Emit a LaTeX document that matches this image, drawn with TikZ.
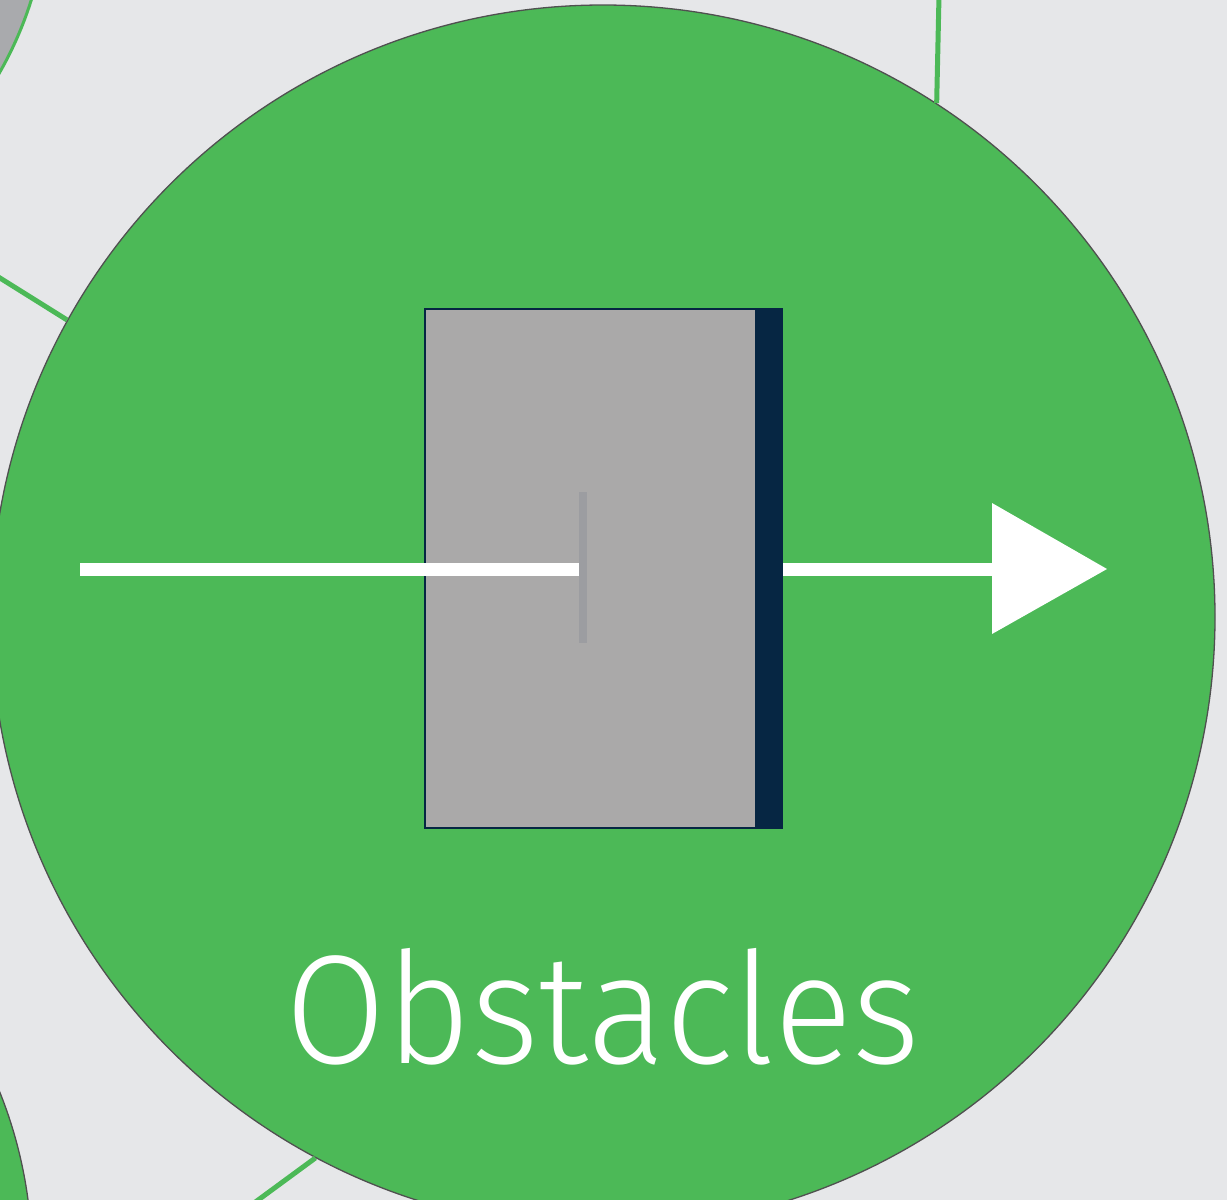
\documentclass[tikz,border=0pt]{standalone}
\usepackage{fontspec}
\newfontfamily\labelfont[FakeStretch=0.94]{Fira Sans Light}
\definecolor{bg}{HTML}{E6E7E9}
\definecolor{leaf}{HTML}{4CB957}
\definecolor{navy}{HTML}{062643}
\definecolor{boxgray}{HTML}{AAA9A9}
\definecolor{pingray}{HTML}{9C9DA1}
\definecolor{rim}{HTML}{505050}
\definecolor{otherfill}{HTML}{A9AAAD}
\tikzset{
  bubble/.style={circle, fill=leaf, draw=rim, line width=1.3pt, inner sep=0pt},
  greybubble/.style={circle, fill=otherfill, draw=leaf, line width=3pt, inner sep=0pt},
  link/.style={draw=leaf, line width=5pt},
  shaft/.style={draw=white, line width=13pt},
}
\begin{document}
\begin{tikzpicture}[x=1pt,y=-1pt]
\useasboundingbox (0,0) rectangle (1227,1200);
\clip (0,0) rectangle (1227,1200);
\fill[bg] (0,0) rectangle (1227,1200);
% neighbouring bubbles
\node[greybubble, minimum size=736pt] (tlbubble) at (-320,-110) {};
\node[bubble, minimum size=904pt] (blbubble) at (-420,1260) {};
% main bubble
\node[bubble, minimum size=1224pt] (main) at (603,617) {};
% connectors leaving the main bubble
\coordinate (farleft) at (-80,228);
\coordinate (fartop) at (940,-50);
\coordinate (farbottom) at (220,1228);
\draw[link] (main.151.3) -- (farleft);
\draw[link] (main.57.6) -- (fartop);
\draw[link] (main.242.6) -- (farbottom);
% obstacle box
\draw[fill=boxgray, draw=navy, line width=2pt] (424.5,308.5) rectangle (756,828);
\fill[navy] (755,308) rectangle (783,829);
\coordinate (boxright) at (783,569);
% arrow
\coordinate (start) at (80,569);
\coordinate (stop) at (579,569);
\coordinate (headbase) at (992,569);
\draw[shaft] (start) -- (stop);
\draw[shaft] (boxright) -- (headbase);
\fill[white] (992,503) -- (1107,569) -- (992,634) -- cycle;
\fill[pingray] (579,492) rectangle (587,643);
% label
\node[text=white, font=\labelfont\fontsize{155}{155}\selectfont, anchor=base, inner sep=0pt] (label) at (603,1063) {Obstacles};
\end{tikzpicture}
\end{document}
